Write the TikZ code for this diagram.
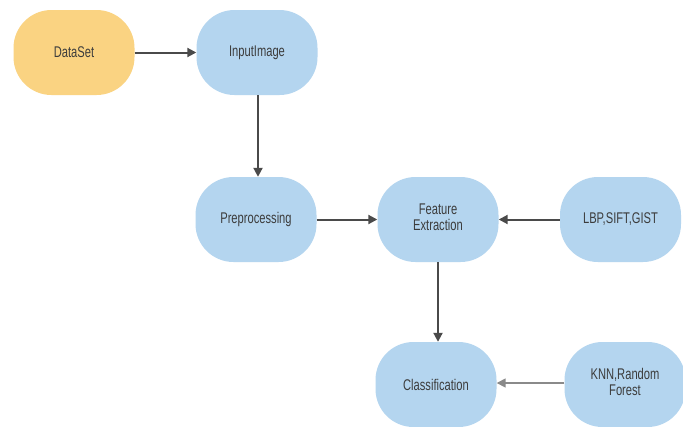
\documentclass[tikz,border=0pt]{standalone}
\usepackage{fontspec}
\setmainfont{Liberation Sans}
\usepackage{graphicx}
\usetikzlibrary{arrows.meta}
\definecolor{boxblue}{HTML}{B4D5EF}
\definecolor{boxorange}{HTML}{FAD382}
\definecolor{arrowgray}{HTML}{4A4A4A}
\definecolor{lightarrow}{HTML}{8A8A8A}
\definecolor{txtgray}{HTML}{3C3C3C}
\newcommand{\sqz}[1]{\scalebox{0.72}[1]{#1}}
\tikzset{
  flowbox/.style={draw=none, fill=boxblue, rounded corners=38pt, minimum width=121pt, minimum height=85pt,
    inner sep=0pt, text=txtgray, font=\fontsize{15.5}{16}\selectfont, align=center},
  srcbox/.style={flowbox, fill=boxorange},
  flowarrow/.style={draw=arrowgray, line width=2pt, -{Triangle[length=9pt,width=9pt]}},
  lightflow/.style={draw=lightarrow, line width=1.6pt, -{Triangle[length=9pt,width=9pt]}}
}
\begin{document}
\begin{tikzpicture}[x=1pt,y=-1pt]
\useasboundingbox[fill=white] (0,0) rectangle (683,426);
\node[srcbox]  (ds)  at (74,52.5)   {\sqz{DataSet}};
\node[flowbox] (in)  at (257,52.5)  {\sqz{InputImage}};
\node[flowbox] (pre) at (256,219.5) {\sqz{Preprocessing}};
\node[flowbox] (fe)  at (438,219.5) {\sqz{\begin{tabular}{c}Feature\\Extraction\end{tabular}}};
\node[flowbox] (lbp) at (620.5,219.5) {\sqz{LBP,SIFT,GIST}};
\node[flowbox] (cls) at (436,384.5) {\sqz{Classification}};
\node[flowbox] (knn) at (625,384.5) {\sqz{\begin{tabular}{c}KNN,Random\\Forest\end{tabular}}};
\draw[flowarrow] (ds) -- (in);
\draw[flowarrow] (in.south) ++(1,0) coordinate (a1) -- (a1 |- pre.north);
\draw[flowarrow] (pre) -- (fe);
\draw[flowarrow] (lbp) -- (fe);
\draw[flowarrow] (fe.south) -- (fe.south |- cls.north);
\draw[lightflow] (knn.west |- 0,383) -- (cls.east |- 0,383);
\end{tikzpicture}
\end{document}
